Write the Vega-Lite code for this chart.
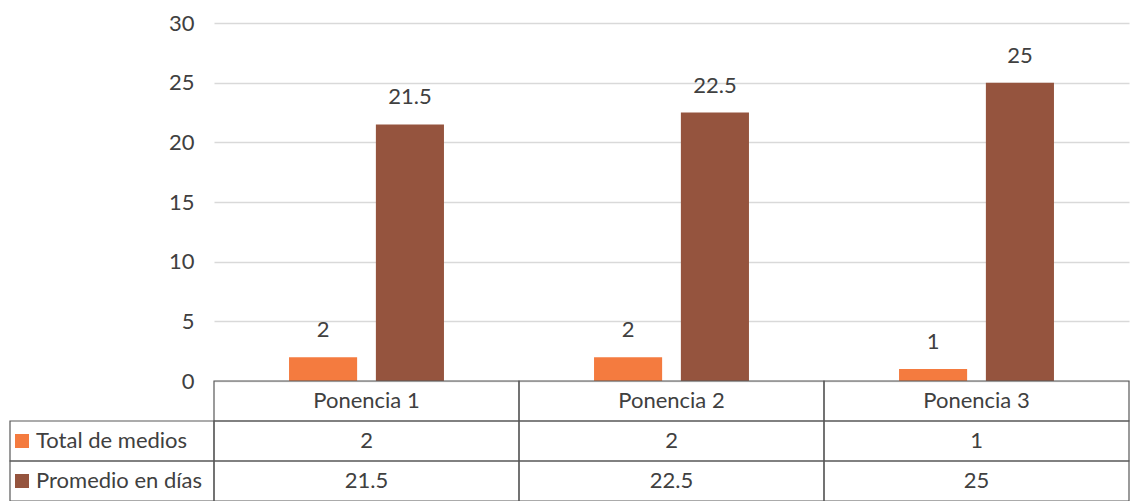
{
  "$schema": "https://vega.github.io/schema/vega-lite/v6.json",
  "padding": {"left": 9, "top": 12, "right": 0, "bottom": 0},
  "background": "white",
  "config": {"view": {"stroke": null}, "font": "Lato"},
  "bounds": "flush",
  "columns": 2,
  "spacing": 0,
  "datasets": {
    "chart": [
      {"ponencia": "Ponencia 1", "serie": "Total de medios", "valor": 2},
      {"ponencia": "Ponencia 1", "serie": "Promedio en días", "valor": 21.5},
      {"ponencia": "Ponencia 2", "serie": "Total de medios", "valor": 2},
      {"ponencia": "Ponencia 2", "serie": "Promedio en días", "valor": 22.5},
      {"ponencia": "Ponencia 3", "serie": "Total de medios", "valor": 1},
      {"ponencia": "Ponencia 3", "serie": "Promedio en días", "valor": 25}
    ],
    "tabla": [
      {"ponencia": "Ponencia 1", "fila": "Ponencia", "texto": "Ponencia 1"},
      {"ponencia": "Ponencia 2", "fila": "Ponencia", "texto": "Ponencia 2"},
      {"ponencia": "Ponencia 3", "fila": "Ponencia", "texto": "Ponencia 3"},
      {"ponencia": "Ponencia 1", "fila": "Total de medios", "texto": "2"},
      {"ponencia": "Ponencia 2", "fila": "Total de medios", "texto": "2"},
      {"ponencia": "Ponencia 3", "fila": "Total de medios", "texto": "1"},
      {"ponencia": "Ponencia 1", "fila": "Promedio en días", "texto": "21.5"},
      {"ponencia": "Ponencia 2", "fila": "Promedio en días", "texto": "22.5"},
      {"ponencia": "Ponencia 3", "fila": "Promedio en días", "texto": "25"}
    ],
    "filas": [
      {"fila": "Total de medios"},
      {"fila": "Promedio en días"}
    ],
    "vacio": []
  },
  "concat": [
    {
      "width": 204,
      "height": 358,
      "data": {"name": "vacio"},
      "mark": "point",
      "encoding": {}
    },
    {
      "width": 915,
      "height": 358,
      "data": {"name": "chart"},
      "encoding": {
        "x": {"field": "ponencia", "type": "nominal", "sort": ["Ponencia 1", "Ponencia 2", "Ponencia 3"], "scale": {"paddingInner": 0, "paddingOuter": 0}, "axis": null},
        "xOffset": {"field": "serie", "type": "nominal", "sort": ["Total de medios", "Promedio en días"], "scale": {"paddingInner": 0.216, "paddingOuter": 0.864}},
        "y": {
          "field": "valor", "type": "quantitative",
          "scale": {"domain": [0, 30], "nice": false},
          "axis": {"values": [0, 5, 10, 15, 20, 25, 30], "title": null, "grid": true, "gridColor": "#D9D9D9", "gridWidth": 1.5, "domain": false, "ticks": false, "labelFontSize": 22, "labelColor": "#404040", "labelPadding": 20}
        }
      },
      "layer": [
        {
          "mark": {"type": "bar"},
          "encoding": {
            "color": {
              "field": "serie", "type": "nominal",
              "scale": {"domain": ["Total de medios", "Promedio en días"], "range": ["#F47B3F", "#95543E"]},
              "legend": {"orient": "none", "legendX": 1, "legendY": 407, "title": null, "direction": "vertical", "symbolType": "square", "symbolSize": 196, "symbolStrokeWidth": 0, "labelFontSize": 22, "labelColor": "#404040", "labelOffset": 3, "labelLimit": 300, "rowPadding": 18, "padding": 0}
            }
          }
        },
        {
          "mark": {"type": "text", "dy": -27, "fontSize": 22, "color": "#404040", "baseline": "middle"},
          "encoding": {"text": {"field": "valor", "type": "quantitative"}}
        }
      ]
    },
    {
      "width": 204,
      "height": 120,
      "data": {"name": "filas"},
      "mark": {"type": "rect", "fill": "transparent", "stroke": "#595959", "strokeWidth": 1.2},
      "encoding": {
        "y": {"field": "fila", "type": "nominal", "scale": {"domain": ["Ponencia", "Total de medios", "Promedio en días"], "paddingInner": 0, "paddingOuter": 0}, "axis": null}
      }
    },
    {
      "width": 915,
      "height": 120,
      "data": {"name": "tabla"},
      "encoding": {
        "x": {"field": "ponencia", "type": "nominal", "sort": ["Ponencia 1", "Ponencia 2", "Ponencia 3"], "scale": {"paddingInner": 0, "paddingOuter": 0}, "axis": null},
        "y": {"field": "fila", "type": "nominal", "scale": {"domain": ["Ponencia", "Total de medios", "Promedio en días"], "paddingInner": 0, "paddingOuter": 0}, "axis": null}
      },
      "layer": [
        {"mark": {"type": "rect", "fill": "transparent", "stroke": "#595959", "strokeWidth": 1.2}},
        {"mark": {"type": "text", "fontSize": 22, "color": "#404040", "baseline": "middle"}, "encoding": {"text": {"field": "texto", "type": "nominal"}}}
      ]
    }
  ]
}
